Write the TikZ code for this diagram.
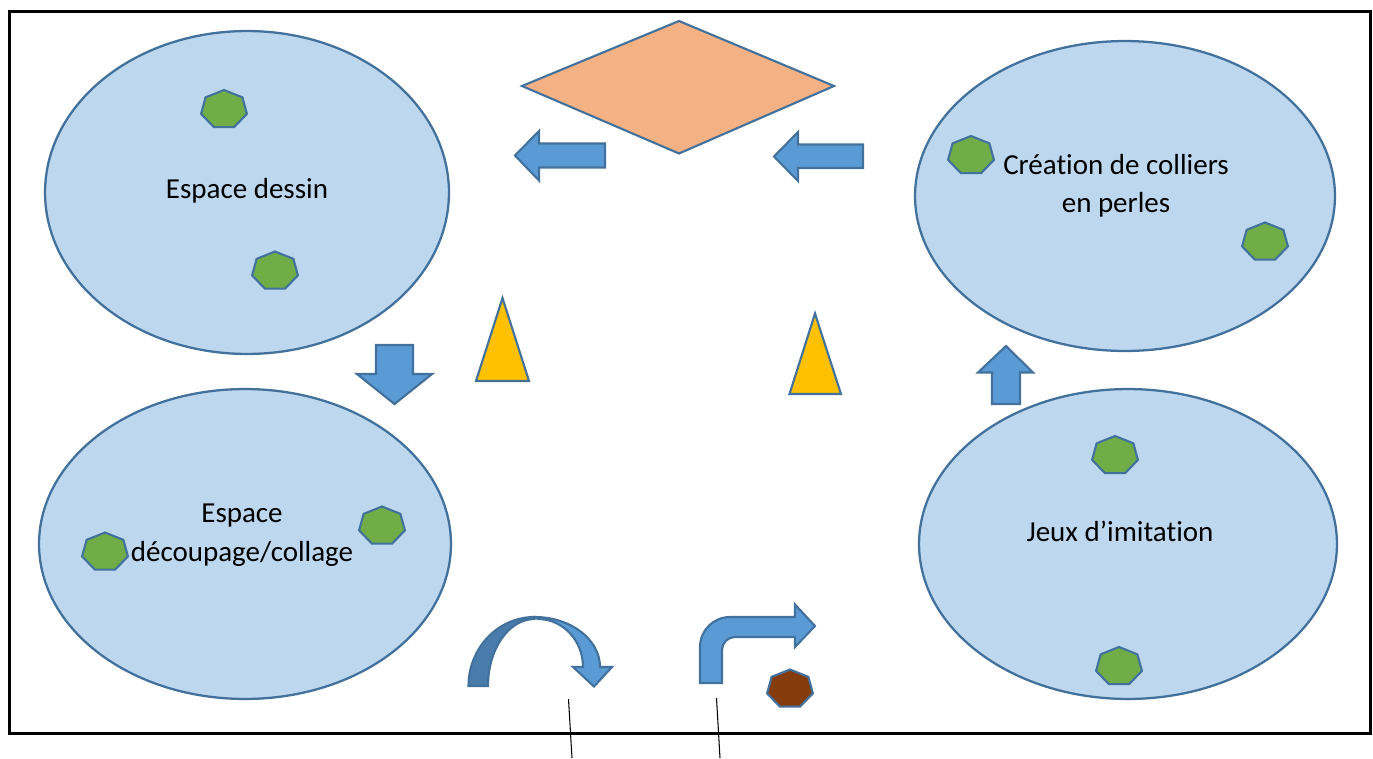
\documentclass[tikz,border=0pt]{standalone}
\usepackage{fontspec}
\setmainfont{Carlito}[RawFeature={-liga;-clig;-dlig;-calt;-rlig}]
\usetikzlibrary{shapes.geometric}

\definecolor{zonefill}{HTML}{BDD7EE}
\definecolor{edgeblue}{HTML}{41719C}
\definecolor{arrowblue}{HTML}{5B9BD5}
\definecolor{arrowdark}{HTML}{497CAA}
\definecolor{peach}{HTML}{F4B183}
\definecolor{amber}{HTML}{FFC000}
\definecolor{leaf}{HTML}{70AD47}
\definecolor{rust}{HTML}{843C0C}

% keeps "t" and "i" as separate glyphs
\newcommand\splitti{t\kern0pt i}

% heptagon: name, x, y, fill colour
\newcommand\drawhept[4]{%
  \coordinate (#1) at (#2,#3);
  \draw[hept, fill=#4] (#1) +(90:0.47cm and 0.39cm)
    \foreach \k in {1,...,6}{ -- +(90+\k*360/7:0.47cm and 0.39cm)} -- cycle;
}

\begin{document}
\begin{tikzpicture}[x=0.02cm, y=-0.02cm,
  zone/.style={ellipse, draw=edgeblue, fill=zonefill, line width=1.3pt, inner sep=0pt},
  block/.style={draw=edgeblue, fill=arrowblue, line width=1.2pt, line join=miter},
  hept/.style={draw=edgeblue, line width=1.2pt, line join=miter},
  cone/.style={draw=edgeblue, fill=amber, line width=1.2pt, line join=miter},
  zonetext/.style={font=\fontsize{16.5}{21.7}\selectfont, align=center, anchor=base, inner sep=0pt},
  frame/.style={draw=black, line width=1.7pt},
  tick/.style={draw=black, line width=0.6pt}]

\useasboundingbox (0,0) rectangle (1373,758);

% outer frame
\draw[frame] (9.5,11.3) rectangle (1370.3,733);

% activity zones
\node[zone, minimum width=8.08cm, minimum height=6.46cm] (dessin) at (247,192.5) {};
\node[zone, minimum width=8.24cm, minimum height=6.2cm] (decoupe) at (245,544) {};
\node[zone, minimum width=8.4cm, minimum height=6.2cm] (perles) at (1125,196) {};
\node[zone, minimum width=8.36cm, minimum height=6.2cm] (jeux) at (1128,544) {};

% diamond at the top
\draw[draw=edgeblue, fill=peach, line width=1.2pt, line join=miter]
  (679,21) -- (834,86) -- (679,153.5) -- (522,86) -- cycle;

% left-pointing block arrows
\draw[block] (605,143.5) -- (539,143.5) -- (539,131) -- (515,155.5) -- (539,180.5) -- (539,167.5) -- (605,167.5) -- cycle;
\draw[block] (863,144.5) -- (798,144.5) -- (798,132) -- (774,156.5) -- (798,181) -- (798,168) -- (863,168) -- cycle;

% down arrow
\draw[block] (376,345) -- (413,345) -- (413,374) -- (432,374) -- (394.5,404) -- (357,374) -- (376,374) -- cycle;

% up arrow
\draw[block] (1006,346) -- (1033,372.5) -- (1020,372.5) -- (1020,404) -- (992,404) -- (992,372.5) -- (978,372.5) -- cycle;

% triangles
\draw[cone] (502.5,298) -- (529,381) -- (476,381) -- cycle;
\draw[cone] (815,313.5) -- (841,394) -- (789.5,394) -- cycle;

% U-turn arrow: back face
\draw[block, fill=arrowdark] (468.5,686)
  arc[start angle=180, end angle=90, x radius=1.32cm, y radius=1.38cm]
  -- (534.5,619)
  arc[start angle=90, end angle=180, x radius=0.93cm, y radius=1.34cm]
  -- cycle;
% U-turn arrow: front face with head
\draw[block] (534.5,617)
  arc[start angle=90, end angle=0, x radius=1.31cm, y radius=1.0cm]
  -- (612,667) -- (594,686.5) -- (573,667) -- (583,667)
  arc[start angle=0, end angle=90, x radius=0.9cm, y radius=0.96cm]
  -- cycle;

% bent arrow
\draw[block] (700,683) -- (700,647)
  arc[start angle=180, end angle=90, radius=0.6cm]
  -- (795,617) -- (795,604.5) -- (815,626) -- (795,647) -- (795,637) -- (735,637)
  arc[start angle=90, end angle=180, radius=0.26cm]
  -- (722,683) -- cycle;

% heptagons
\drawhept{h1}{224}{109.5}{leaf}
\drawhept{h2}{275}{271}{leaf}
\drawhept{h3}{971}{155.5}{leaf}
\drawhept{h4}{1265}{242}{leaf}
\drawhept{h5}{105}{552}{leaf}
\drawhept{h6}{382}{526}{leaf}
\drawhept{h7}{1115}{455.5}{leaf}
\drawhept{h8}{1119}{666.5}{leaf}
\drawhept{h9}{790}{689}{rust}

% zone labels (anchor at the baseline of the last line)
\node[zonetext] (t-dessin) at (247,198) {Espace dessin};
\node[zonetext] (t-decoupe) at (242,561) {Espace\\découpage/collage};
\node[zonetext] (t-perles) at (1116,212.5) {Créa\splitti on de colliers\\en perles};
\node[zonetext] (t-jeux) at (1120,541) {Jeux d’imita\splitti on};

% two strokes crossing the bottom edge
\coordinate (s1a) at (568.5,699);
\coordinate (s1b) at (572,758);
\coordinate (s2a) at (716.5,698);
\coordinate (s2b) at (720,758);
\draw[tick] (s1a) -- (s1b);
\draw[tick] (s2a) -- (s2b);

\end{tikzpicture}
\end{document}
